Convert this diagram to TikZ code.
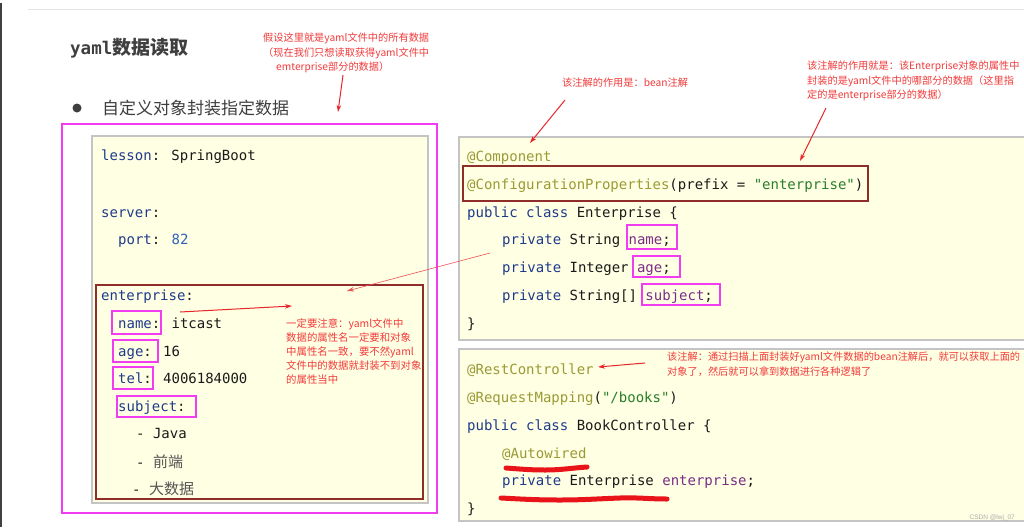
\documentclass[tikz,border=0pt]{standalone}
\usepackage{fontspec}
\usetikzlibrary{arrows.meta}
\newfontfamily\cjk{Noto Sans CJK SC}
\newfontfamily\codefont{DejaVu Sans Mono}
\newfontfamily\wmfont{Liberation Sans}
\definecolor{titlegray}{HTML}{3F3F3F}
\definecolor{notered}{HTML}{F23A3A}
\definecolor{arrowred}{HTML}{E8262A}
\definecolor{panelfill}{HTML}{FFFFE4}
\definecolor{panelborder}{HTML}{C4C4C4}
\definecolor{boxred}{HTML}{8E2D2A}
\definecolor{magbox}{HTML}{F23CF2}
\definecolor{keyblue}{HTML}{1F3A8A}
\definecolor{numblue}{HTML}{2F5FBF}
\definecolor{annoolive}{HTML}{9A9A35}
\definecolor{strgreen}{HTML}{2A7D2A}
\definecolor{fieldpurple}{HTML}{7B2D86}
\definecolor{codeblack}{HTML}{1A1A1A}
\definecolor{cjkgray}{HTML}{555555}
\definecolor{scribred}{HTML}{E8141A}
\tikzset{
  code/.style={font=\codefont\fontsize{14}{16}\selectfont, anchor=west, inner sep=0pt,
               text height=10.5pt, text depth=3pt, text=codeblack, yshift=-2pt},
  note/.style={font=\cjk\fontsize{10.2}{14.5}\selectfont, text=notered, align=left,
               anchor=north west, inner sep=0pt},
  panel/.style={fill=panelfill, draw=panelborder, line width=1.2pt},
  redbox/.style={draw=boxred, line width=2.5pt},
  hlbox/.style={draw=magbox, line width=1.8pt},
  redarrow/.style={draw=arrowred, line width=1pt, -{Stealth[length=7pt,width=4.5pt]}},
  thinarrow/.style={draw=arrowred!80, line width=0.6pt, -{Stealth[length=7pt,width=4.5pt]}},
  scrib/.style={draw=scribred, line width=5pt, line cap=round},
}
\begin{document}
\begin{tikzpicture}[x=1pt,y=-1pt]
\useasboundingbox (0,0) rectangle (1024,527);
\fill[white] (0,0) rectangle (1024,527);
% slide frame hints
\draw[gray!20, line width=0.8pt] (28,9) -- (1024,9);
\draw[black!75, line width=1.5pt] (1,3) -- (1,527);

% title and bullet
\node[anchor=west, inner sep=0pt, text=titlegray] (title) at (70,48)
  {{\codefont\bfseries\fontsize{17.5}{20}\selectfont yaml}{\cjk\bfseries\fontsize{19}{22}\selectfont 数据读取}};
\node[circle, fill=titlegray, minimum size=9pt, inner sep=0pt] (bul) at (77,108) {};
\node[anchor=west, inner sep=0pt, font=\cjk\fontsize{17}{20}\selectfont, text=titlegray] (sub) at (102,108) {自定义对象封装指定数据};

% left yaml area
\draw[draw=magbox, line width=2pt] (62,124) rectangle (437,513);
\draw[panel] (92,136) rectangle (428,503);
\draw[redbox] (96,285) rectangle (423,499);

\node[code] (y1) at (101,155) {\textcolor{keyblue}{lesson}: SpringBoot};
\node[code] (y2) at (101,212) {\textcolor{keyblue}{server}:};
\node[code] (y3) at (118,239) {\textcolor{keyblue}{port}: \textcolor{numblue}{82}};
\node[code] (y4) at (101,295) {\textcolor{keyblue}{enterprise}:};
\node[code] (y5) at (118,323) {\textcolor{keyblue}{name}: itcast};
\node[code] (y6) at (118,351) {\textcolor{keyblue}{age}: 16};
\node[code] (y7) at (118,378) {\textcolor{keyblue}{tel}: 4006184000};
\node[code] (y8) at (118,406) {\textcolor{keyblue}{subject}:};
\node[code] (y9) at (136,433) {- Java};
\node[code] (y10) at (136,462) {- {\cjk\fontsize{15}{16}\selectfont\color{cjkgray}前端}};
\node[code] (y11) at (132,489) {- {\cjk\fontsize{15}{16}\selectfont\color{cjkgray}大数据}};

\draw[hlbox] (112,311) rectangle (161,334);
\draw[hlbox] (113,340) rectangle (158,362);
\draw[hlbox] (113,367) rectangle (153,389);
\draw[hlbox] (117,396) rectangle (196,417);

% right top panel
\draw[panel] (459,137) rectangle (1030,340);
\node[code] (c1) at (467,156) {\textcolor{annoolive}{@Component}};
\node[code] (c2) at (467,184) {\textcolor{annoolive}{@ConfigurationProperties}(prefix = \textcolor{strgreen}{"enterprise"})};
\node[code] (c3) at (467,212) {\textcolor{keyblue}{public class} Enterprise \{};
\node[code] (c4) at (502,239) {\textcolor{keyblue}{private} String \textcolor{fieldpurple}{name};};
\node[code] (c5) at (502,267) {\textcolor{keyblue}{private} Integer \textcolor{fieldpurple}{age};};
\node[code] (c6) at (502,295) {\textcolor{keyblue}{private} String[] \textcolor{fieldpurple}{subject};};
\node[code] (c7) at (467,323) {\}};
\draw[redbox] (463,166) rectangle (868,201);
\draw[hlbox] (627,225) rectangle (677,249);
\draw[hlbox] (633,256) rectangle (680,277);
\draw[hlbox] (642,284) rectangle (720,305);

% right bottom panel
\draw[panel] (459,349) rectangle (1030,521);
\node[code] (b1) at (467,369) {\textcolor{annoolive}{@RestController}};
\node[code] (b2) at (467,397) {\textcolor{annoolive}{@RequestMapping}(\textcolor{strgreen}{"/books"})};
\node[code] (b3) at (467,425) {\textcolor{keyblue}{public class} BookController \{};
\node[code] (b4) at (502,453) {\textcolor{annoolive}{@Autowired}};
\node[code] (b5) at (502,480) {\textcolor{keyblue}{private} Enterprise \textcolor{fieldpurple}{enterprise};};
\node[code] (b6) at (467,508) {\}};
\draw[scrib] (506,468) to[out=-4,in=180] (545,470) to[out=0,in=184] (587,467);
\draw[scrib] (501,498) to[out=-3,in=180] (560,500) to[out=0,in=182] (620,498) to[out=2,in=180] (667,499);

% annotations
\node[note] (n1) at (263,33) {假设这里就是yaml文件中的所有数据\\（现在我们只想读取获得yaml文件中\\\hspace*{13pt}emterprise部分的数据）};
\node[note] (n2) at (562,78) {该注解的作用是：bean注解};
\node[note] (n3) at (807,61) {该注解的作用就是：该Enterprise对象的属性中\\封装的是yaml文件中的哪部分的数据（这里指\\定的是enterprise部分的数据）};
\node[note, font=\cjk\fontsize{10.4}{14}\selectfont] (n4) at (286,318) {一定要注意：yaml文件中\\数据的属性名一定要和对象\\中属性名一致，要不然yaml\\文件中的数据就封装不到对象\\的属性当中};
\node[note, font=\cjk\fontsize{10.2}{15}\selectfont] (n5) at (667,352) {该注解：通过扫描上面封装好yaml文件数据的bean注解后，就可以获取上面的\\对象了，然后就可以拿到数据进行各种逻辑了};

% arrows
\coordinate (a1s) at (343,75);  \coordinate (a1e) at (338,112);
\coordinate (a2s) at (565,100); \coordinate (a2e) at (530,143);
\coordinate (a3s) at (826,108); \coordinate (a3e) at (800,161);
\coordinate (a4s) at (180,312); \coordinate (a4e) at (292,306);
\coordinate (a5s) at (490,253); \coordinate (a5e) at (347,291);
\coordinate (a6s) at (645,363); \coordinate (a6e) at (598,367);
\draw[redarrow] (a1s) -- (a1e);
\draw[redarrow] (a2s) -- (a2e);
\draw[redarrow] (a3s) -- (a3e);
\draw[redarrow] (a4s) -- (a4e);
\draw[thinarrow] (a5s) -- (a5e);
\draw[redarrow] (a6s) -- (a6e);

% watermark
\node[anchor=east, inner sep=0pt, font=\wmfont\fontsize{6.5}{8}\selectfont, text=gray!65] (wm) at (1015,518) {CSDN @lwj\_07};
\end{tikzpicture}
\end{document}
